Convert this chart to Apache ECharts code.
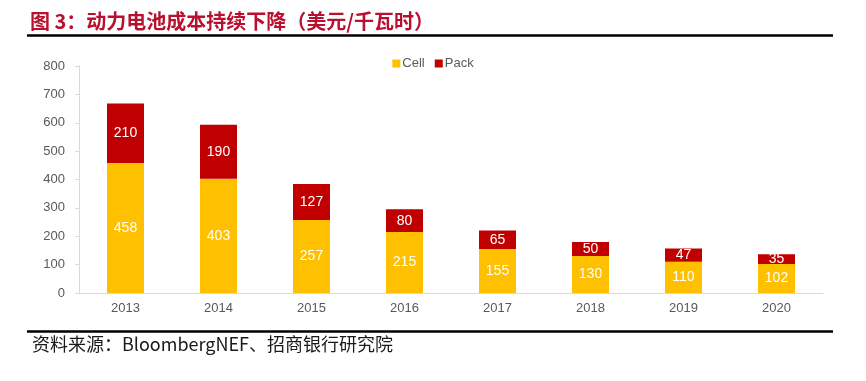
<!DOCTYPE html>
<html><head><meta charset="utf-8">
<script src="https://cdn.jsdelivr.net/npm/echarts@6/dist/echarts.min.js"></script>
<style>html,body{margin:0;padding:0;background:#fff}#c{width:866px;height:381px}</style>
</head><body><div id="c"></div>
<script>
const years = ['2013','2014','2015','2016','2017','2018','2019','2020'];
const cellValues = [458,403,257,215,155,130,110,102];
const packValues = [210,190,127,80,65,50,47,35];
const yTicks = [0,100,200,300,400,500,600,700,800];

const chart = echarts.init(document.getElementById('c'));
const labelStyle = {show:true, position:'inside', color:'#fff', fontSize:14, fontFamily:'"Liberation Sans", Arial, sans-serif'};
chart.setOption({
  animation:false,
  title:{
    text:'图 3：动力电池成本持续下降（美元/千瓦时）',
    left:25, top:6,
    textStyle:{color:'#B8102E', fontSize:20, fontWeight:'bold', fontFamily:'"Noto Sans CJK SC", sans-serif'}
  },
  graphic:[
    {type:'line', shape:{x1:27,y1:35.5,x2:833,y2:35.5}, style:{stroke:'#000', lineWidth:2.5}},
    {type:'line', shape:{x1:27,y1:331.5,x2:833,y2:331.5}, style:{stroke:'#000', lineWidth:2.5}},
    {type:'text', left:32, top:335, style:{text:'资料来源：BloombergNEF、招商银行研究院', fill:'#1a1a1a', fontSize:18, fontFamily:'"Noto Sans CJK SC", sans-serif'}}
  ],
  legend:{
    data:['Cell','Pack'], top:52, left:'center',
    itemWidth:8, itemHeight:8, itemGap:10, icon:'rect',
    textStyle:{color:'#595959', fontSize:13, fontFamily:'"Liberation Sans", Arial, sans-serif', padding:[0,0,0,-3]}
  },
  grid:{left:79, right:43, top:66, bottom:88},
  xAxis:{
    type:'category', data:years,
    axisLine:{lineStyle:{color:'#d9d9d9'}},
    axisTick:{show:false},
    axisLabel:{color:'#595959', fontSize:13, margin:9, fontFamily:'"Liberation Sans", Arial, sans-serif'}
  },
  yAxis:{
    type:'value', min:yTicks[0], max:yTicks[yTicks.length-1], interval:100,
    axisLine:{show:true, lineStyle:{color:'#d9d9d9'}},
    axisTick:{show:true, length:4, lineStyle:{color:'#d9d9d9'}},
    splitLine:{show:false},
    axisLabel:{color:'#595959', fontSize:13, margin:14, fontFamily:'"Liberation Sans", Arial, sans-serif'}
  },
  series:[
    {name:'Cell', type:'bar', stack:'t', data:cellValues, barWidth:37, itemStyle:{color:'#FFC000'}, label:labelStyle},
    {name:'Pack', type:'bar', stack:'t', data:packValues, barWidth:37, itemStyle:{color:'#C00000'}, label:labelStyle}
  ]
});
</script></body></html>
